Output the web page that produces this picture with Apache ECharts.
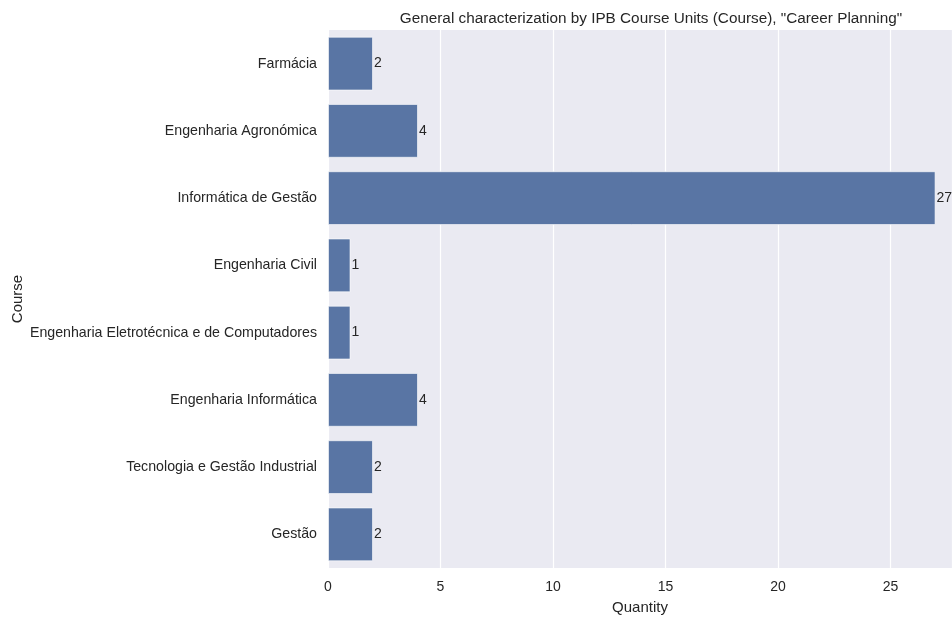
<!DOCTYPE html>
<html>
<head>
<meta charset="utf-8">
<script src="https://cdn.jsdelivr.net/npm/echarts@6/dist/echarts.min.js"></script>
<style>
  html, body { margin: 0; padding: 0; background: #fff; }
  #chart { width: 952px; height: 619px; }
</style>
</head>
<body>
<div id="chart"></div>
<script>
// course names (top to bottom) and answer counts
var courses = ["Farmácia", "Engenharia Agronómica", "Informática de Gestão", "Engenharia Civil",
    "Engenharia Eletrotécnica e de Computadores", "Engenharia Informática",
    "Tecnologia e Gestão Industrial", "Gestão"];
var quantities = [2, 4, 27, 1, 1, 4, 2, 2];

var font = "'Liberation Sans', Arial, sans-serif";
var textColor = "#262626";

var myChart = echarts.init(document.getElementById("chart"));
var option = {
    backgroundColor: "#ffffff",
    title: {
        text: 'General characterization by IPB Course Units (Course), "Career Planning"',
        left: 646,
        textAlign: "center",
        top: 6,
        textStyle: { fontFamily: font, fontSize: 15.3, fontWeight: "normal", color: textColor }
    },
    grid: {
        left: 328,
        right: 0,
        top: 30,
        bottom: 51,
        outerBoundsMode: "none",
        containLabel: false,
        show: true,
        backgroundColor: "#eaeaf2",
        borderWidth: 0
    },
    xAxis: {
        type: "value",
        min: 0,
        max: 27.73,
        interval: 5,
        name: "Quantity",
        nameLocation: "middle",
        nameGap: 32,
        nameMoveOverlap: false,
        nameTextStyle: { fontFamily: font, fontSize: 15, color: textColor },
        axisLine: { show: false },
        axisTick: { show: false },
        axisLabel: { fontFamily: font, fontSize: 14, color: textColor, margin: 12, showMaxLabel: false },
        splitLine: { show: true, lineStyle: { color: "#ffffff", width: 1.2 } }
    },
    yAxis: {
        type: "category",
        data: courses,
        inverse: true,
        name: "Course",
        nameLocation: "middle",
        nameGap: 303,
        nameMoveOverlap: false,
        nameRotate: 90,
        nameTextStyle: { fontFamily: font, fontSize: 15, color: textColor },
        axisLine: { show: false },
        axisTick: { show: false },
        axisLabel: { fontFamily: font, fontSize: 14.2, color: textColor, margin: 11 },
        splitLine: { show: false }
    },
    series: [
        {
            type: "bar",
            data: quantities,
            barCategoryGap: "20%",
            itemStyle: { color: "#5975a4", borderColor: "rgba(255,255,255,0.6)", borderWidth: 1 },
            label: {
                show: true,
                position: "right",
                distance: 1,
                fontFamily: font,
                fontSize: 14,
                color: textColor
            }
        }
    ]
};
myChart.setOption(option);
</script>
</body>
</html>
